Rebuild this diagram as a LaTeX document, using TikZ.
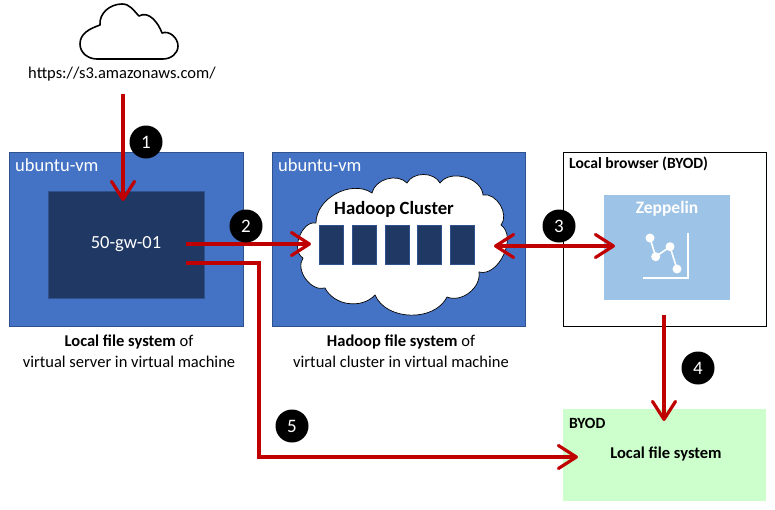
\documentclass[tikz,border=0pt]{standalone}
\usepackage{fontspec}
\setmainfont{Carlito}
\usetikzlibrary{arrows.meta}

\definecolor{vmBlue}{HTML}{4472C4}
\definecolor{vmEdge}{HTML}{2F528F}
\definecolor{darkNavy}{HTML}{1F3864}
\definecolor{paleBlue}{HTML}{9DC3E6}
\definecolor{byodGreen}{HTML}{CCFFCC}
\definecolor{flowRed}{HTML}{C00000}

\tikzset{
  vmRect/.style={rectangle, draw=vmEdge, fill=vmBlue, line width=0.8pt, anchor=north west, inner sep=0pt, outer sep=0pt},
  navyRect/.style={rectangle, draw=vmEdge, fill=darkNavy, line width=0.8pt, anchor=north west, inner sep=0pt, outer sep=0pt},
  vmLabel/.style={anchor=west, text=white, font=\fontsize{18.5}{22}\selectfont, inner sep=0pt},
  plainLabel/.style={font=\fontsize{16.5}{19}\selectfont, inner sep=0pt},
  smallBold/.style={anchor=west, font=\fontsize{15.6}{18}\selectfont\bfseries, inner sep=0pt},
  numBadge/.style={circle, fill=black, text=white, minimum size=33pt, inner sep=0pt, font=\fontsize{19}{22}\selectfont},
  flowArrow/.style={draw=flowRed, line width=3.2pt, -{Straight Barb[length=18pt,width=23pt,line width=3.2pt,round]}},
  twoWayArrow/.style={draw=flowRed, line width=3.2pt, {Straight Barb[length=18pt,width=23pt,line width=3.2pt,round]}-{Straight Barb[length=18pt,width=23pt,line width=3.2pt,round]}},
}

\begin{document}
\begin{tikzpicture}[x=1pt,y=-1pt]
\useasboundingbox (0,0) rectangle (775,509);

% internet cloud
\draw[line width=1.6pt, line join=round] (97,59) to[out=180,in=270] (80,44) to[out=90,in=200] (100,25) to[out=95,in=180] (122,4) to[out=0,in=135] (139,16) to[out=30,in=110] (162,33) to[out=20,in=90] (178,46) to[out=270,in=0] (163,59) -- cycle;
\node (s3Url) [plainLabel] at (122,74) {https://s3.amazonaws.com/};

% left vm
\node (leftVm) [vmRect, minimum width=234pt, minimum height=174pt] at (9,152) {};
\node (leftVmLabel) [vmLabel] at (15,165) {ubuntu-vm};
\node (gwRect) [navyRect, minimum width=156pt, minimum height=107pt, text=white, font=\fontsize{18.5}{22}\selectfont] at (48,191) {50-gw-01};
\node (leftCaption) [plainLabel, align=center] at (129,351) {\textbf{Local file system} of\\[2pt]virtual server in virtual machine};

% middle vm
\node (midVm) [vmRect, minimum width=253pt, minimum height=174pt] at (272,152) {};
\node (midVmLabel) [vmLabel] at (278,165) {ubuntu-vm};
\draw[fill=white, draw=black, line width=0.7pt] (316,223) to[bend left=62] (372,193) to[bend left=62] (407,183) to[bend left=62] (440,183) to[bend left=70] (483,195) to[bend left=70] (501,225) to[bend left=80] (479,272) to[bend left=60] (447,297) to[bend left=65] (375,295) to[bend left=55] (325,288) to[bend left=70] (303,258) to[bend left=80] cycle;
\node (hadoopLabel) [font=\fontsize{18.7}{22}\selectfont\bfseries, inner sep=0pt] at (394,209.5) {Hadoop Cluster};
\foreach \rectX/\rectName in {319.3/a, 352.3/b, 385.3/c, 417.3/d, 450.3/e}
  \node (cluster\rectName) [navyRect, minimum width=24.5pt, minimum height=39.5pt] at (\rectX,225.3) {};
\node (midCaption) [plainLabel, align=center] at (401,351) {\textbf{Hadoop file system} of\\[2pt]virtual cluster in virtual machine};

% browser
\node (browserRect) [rectangle, draw=black, line width=0.9pt, anchor=north west, inner sep=0pt, outer sep=0pt, minimum width=203pt, minimum height=174pt] at (563.5,152) {};
\node (browserLabel) [smallBold] at (569,164) {Local browser (BYOD)};
\node (zeppelinRect) [rectangle, fill=paleBlue, anchor=north west, inner sep=0pt, outer sep=0pt, minimum width=126pt, minimum height=105pt] at (604,195) {};
\node (zeppelinLabel) [text=white, font=\fontsize{17.5}{21}\selectfont\bfseries, inner sep=0pt] at (667,209) {Zeppelin};
\draw[white, line width=1.6pt] (687.7,233) -- (687.7,278) -- (643,278);
\draw[white, line width=1.6pt] (650,238) -- (655.7,256.7) -- (670,246.7) -- (677,269);
\foreach \dotX/\dotY in {650/238, 655.7/256.7, 670/246.7, 677/269}
  \fill[white] (\dotX,\dotY) circle (4.5);

% byod
\node (byodRect) [rectangle, fill=byodGreen, anchor=north west, inner sep=0pt, outer sep=0pt, minimum width=203pt, minimum height=92pt] at (563,409) {};
\node (byodLabel) [smallBold] at (569,423) {BYOD};
\node (byodFiles) [font=\fontsize{16.5}{19}\selectfont\bfseries, inner sep=0pt] at (666,453.5) {Local file system};

% arrow ends
\coordinate (urlOut) at (123,94);
\coordinate (gwIn) at (123,201);
\coordinate (gwOutA) at (186,244);
\coordinate (gwOutB) at (186,263);
\coordinate (clusterIn) at (311,244);
\coordinate (clusterOut) at (494,246);
\coordinate (zeppelinIn) at (615,246);
\coordinate (browserOut) at (664,315);
\coordinate (byodTop) at (664,421);
\coordinate (byodLeft) at (578,457);
\coordinate (bendA) at (259,263);
\coordinate (bendB) at (259,457);

\draw[flowArrow] (urlOut) -- (gwIn);
\draw[flowArrow] (gwOutA) -- (clusterIn);
\draw[twoWayArrow] (clusterOut) -- (zeppelinIn);
\draw[flowArrow] (browserOut) -- (byodTop);
\draw[flowArrow] (gwOutB) -- (bendA) -- (bendB) -- (byodLeft);

\node (badgeOne) [numBadge] at (146,142) {1};
\node (badgeTwo) [numBadge] at (246,226) {2};
\node (badgeThree) [numBadge] at (559,226) {3};
\node (badgeFour) [numBadge] at (698,368) {4};
\node (badgeFive) [numBadge] at (292,426) {5};

\end{tikzpicture}
\end{document}
